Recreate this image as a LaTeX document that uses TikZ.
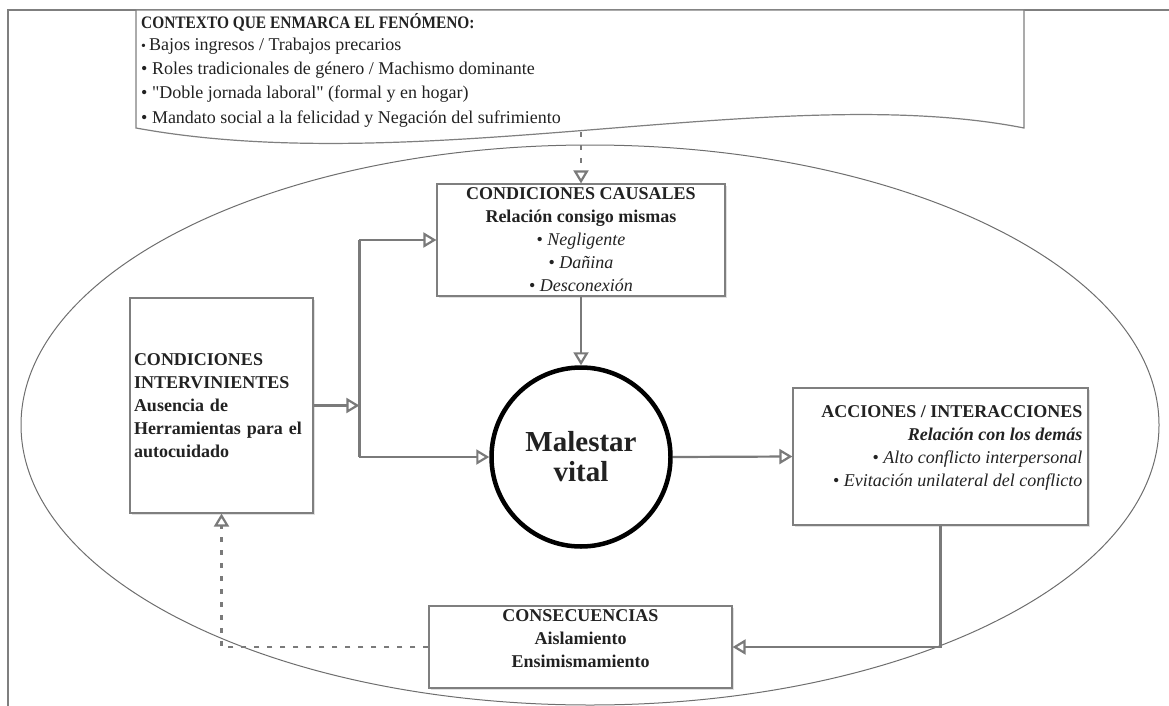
\documentclass[tikz,border=0pt]{standalone}
\usepackage{fontspec}
\setmainfont{Liberation Serif}[Ligatures=TeXOff]
\usetikzlibrary{arrows.meta,shadows,calc}

\definecolor{linegray}{HTML}{7A7A7A}
\definecolor{edgegray}{HTML}{7F7F7F}
\definecolor{thingray}{HTML}{6E6E6E}
\definecolor{textdark}{HTML}{222222}

\begin{document}
\begin{tikzpicture}[x=1pt,y=-1pt,
  every node/.style={text=textdark},
  boxtext/.style={font=\fontsize{18}{23}\selectfont},
  boldtext/.style={font=\bfseries\fontsize{18}{23}\selectfont},
  box/.style={draw=edgegray, line width=1.2pt, fill=white, rectangle, inner sep=0pt,
    drop shadow={shadow xshift=1.5pt, shadow yshift=-1.5pt, fill=black, opacity=0.12}},
  conn/.style={draw=linegray, line width=2.2pt},
  tip/.style={-{Triangle[open, length=13pt, width=15pt]}},
  dashconn/.style={dash pattern=on 5pt off 8pt},
  thin outline/.style={draw=thingray, line width=1pt}]

\useasboundingbox (0,0) rectangle (1169,706);
\clip (0,0) rectangle (1169,706);

% outer frame
\draw[draw=edgegray, line width=1.2pt] (8,720) -- (8,10) -- (1180,10);

% scenario ellipse
\draw[thin outline] (590,425) ellipse [x radius=569, y radius=280];

% context banner with wavy lower edge
\draw[draw=edgegray, line width=1.2pt, fill=white]
  (136,10) -- (136,128) .. controls (420,180) and (780,80) .. (1024,128) -- (1024,10) -- cycle;
\coordinate (ctxwave) at (581,132);
\node[anchor=base west, inner sep=0pt, font=\bfseries\fontsize{17.5}{18}\selectfont] (ctxtitle) at (141,29)
  {\scalebox{0.88}[1]{CONTEXTO QUE ENMARCA EL FENÓMENO:}};
\node[anchor=north west, inner sep=0pt, align=left, font=\fontsize{18}{24.4}\selectfont] (ctxlist) at (141,37.5)
  {{\fontsize{14}{14}\selectfont\textbullet}\,Bajos ingresos / Trabajos precarios\\
   \textbullet\ Roles tradicionales de género / Machismo dominante\\
   \textbullet\ "Doble jornada laboral" (formal y en hogar)\\
   \textbullet\ Mandato social a la felicidad y Negación del sufrimiento};

% boxes
\node[box, boxtext, minimum width=288, minimum height=112, align=center] (caus) at (581,240)
  {\textbf{CONDICIONES CAUSALES}\\
   \textbf{Relación consigo mismas}\\
   \textbullet\ \textit{Negligente}\\
   \textbullet\ \textit{Dañina}\\
   \textbullet\ \textit{Desconexión}};

\node[box, boldtext, minimum width=183, minimum height=215, text width=175pt, inner xsep=4pt,
  align=left] (interv) at (221.5,405.5)
  {CONDICIONES\\INTERVINIENTES\\Ausencia de\\Herramientas para el\\autocuidado};

\node[circle, draw=black, line width=4.5pt, minimum size=179, fill=white, inner sep=0pt,
  drop shadow={shadow xshift=1.5pt, shadow yshift=-1.5pt, fill=black, opacity=0.12},
  align=center, font=\bfseries\fontsize{29}{30}\selectfont] (mal) at (581,457)
  {Malestar\\vital};

\node[box, minimum width=295, minimum height=137] (acc) at (940.5,456.5) {};
\node[boxtext, anchor=north east, inner sep=0pt, align=right] (acctext)
  at ($(acc.north east)+(-6,18)$)
  {\textbf{ACCIONES / INTERACCIONES}\\
   \textbf{\textit{Relación con los demás}}\hspace{4.5pt}\\
   \textbullet\ \textit{Alto conflicto interpersonal}\\
   \textbullet\ \textit{Evitación unilateral del conflicto}};

\node[box, minimum width=303, minimum height=82] (cons) at (580.5,647) {};
\node[boldtext, align=center, inner sep=0pt] (constext)
  at ($(cons.center)+(0,-8)$)
  {CONSECUENCIAS\\Aislamiento\\Ensimismamiento};

% connectors
\coordinate (jtop) at ($(caus.west)+(-77,0)$);
\coordinate (jbot) at (jtop |- mal.west);

\draw[conn, tip, dashconn] (ctxwave) -- (caus.north);
\draw[conn] (jtop) -- (jbot);
\draw[conn, tip] (interv.east) -- (interv.east -| jtop);
\draw[conn, tip] (jtop) -- (caus.west);
\draw[conn, tip] (jbot) -- (mal.west);
\draw[conn, tip] (caus.south) -- (mal.north);
\draw[conn, tip] (mal.east) -- (acc.west);
\draw[conn, tip] (acc.south) |- (cons.east);
\draw[conn, tip, dashconn] (cons.west) -| (interv.south);

\end{tikzpicture}
\end{document}
